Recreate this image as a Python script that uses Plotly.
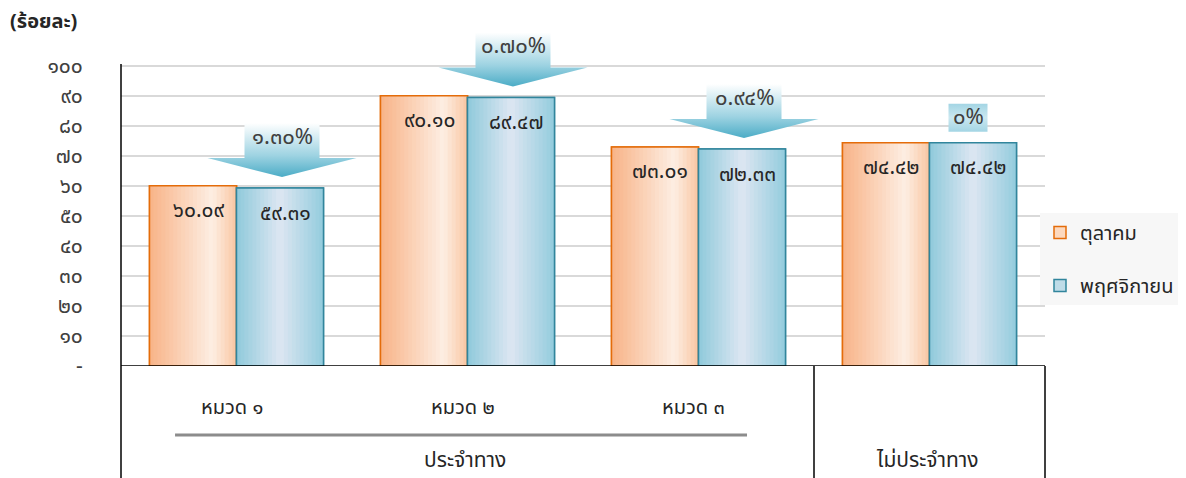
import plotly.graph_objects as go

# ---------------- data ----------------
sub_labels = ['หมวด ๑', 'หมวด ๒', 'หมวด ๓', '']
group_labels = ['ประจำทาง', 'ไม่ประจำทาง']
group_members = [[0, 1, 2], [3]]
series_names = ['ตุลาคม', 'พฤศจิกายน']
oct_vals = [60.09, 90.10, 73.01, 74.42]
nov_vals = [59.31, 89.47, 72.33, 74.42]
change_pct = [1.30, 0.70, 0.94, 0.0]
y_ticks = [0, 10, 20, 30, 40, 50, 60, 70, 80, 90, 100]
y_title = '(ร้อยละ)'

THAI = str.maketrans('0123456789', '๐๑๒๓๔๕๖๗๘๙')


def th(s):
    return str(s).translate(THAI)


tick_text = ['-' if v == 0 else th(v) for v in y_ticks]

# ---------------- geometry helpers ----------------
OFF = 8                                  # page body margin
W_PX, H_PX = 1186 - OFF, 478 - OFF
ML, MT = 121 - OFF, 21 - OFF
YMAX = 115
PW, PH = 924, 345
MR = W_PX - ML - PW
MB = H_PX - MT - PH
X_PX = PW / 4.0                          # pixels per category
Y_PX = PH / YMAX                         # pixels per y unit
BW = 87 / X_PX                           # bar width in category units
xs = list(range(len(oct_vals)))
Y0_REF = 366                             # reference pixel row of y=0

FONT = 'Noto Sans Thai, Noto Sans, DejaVu Sans, sans-serif'


def py(pix):
    """reference pixel row -> paper y"""
    return -(pix - Y0_REF) / PH


def px(pix):
    """reference pixel column -> paper x"""
    return (pix - 121) / PW


def hex2rgb(h):
    h = h.lstrip('#')
    return tuple(int(h[i:i + 2], 16) for i in (0, 2, 4))


def interp(stops, t):
    for (t0, c0), (t1, c1) in zip(stops[:-1], stops[1:]):
        if t0 <= t <= t1:
            a = (t - t0) / (t1 - t0) if t1 > t0 else 0
            r0, g0, b0 = hex2rgb(c0)
            r1, g1, b1 = hex2rgb(c1)
            return 'rgb(%d,%d,%d)' % (round(r0 + (r1 - r0) * a),
                                      round(g0 + (g1 - g0) * a),
                                      round(b0 + (b1 - b0) * a))
    return stops[-1][1]


series = [
    dict(name=series_names[0], vals=oct_vals, off=-BW, line='#E46C0A', mid='#FCD9BF',
         stops=[(0, '#F8B387'), (0.72, '#FDEEE3'), (1, '#F9C6A2')]),
    dict(name=series_names[1], vals=nov_vals, off=0.0, line='#31859C', mid='#BFDCE8',
         stops=[(0, '#8FCADB'), (0.5, '#DDE6F2'), (1, '#93CCDD')]),
]

fig = go.Figure()
N = 22
for k, s in enumerate(series):
    fig.add_trace(go.Bar(x=xs, y=s['vals'], name=s['name'], width=BW, offset=s['off'],
                         marker=dict(color=s['mid'], line=dict(color=s['line'], width=1.5)),
                         legendgroup=s['name'], hoverinfo='skip'))
    sw = BW / N
    for i in range(N):
        wdt = sw * 1.25 if i < N - 1 else sw
        fig.add_trace(go.Bar(x=xs, y=s['vals'], width=wdt, offset=s['off'] + i * sw,
                             marker=dict(color=interp(s['stops'], (i + 0.5) / N), line=dict(width=0)),
                             showlegend=False, hoverinfo='skip'))
    fig.add_trace(go.Bar(x=xs, y=s['vals'], width=BW, offset=s['off'],
                         marker=dict(color='rgba(0,0,0,0)', line=dict(color=s['line'], width=1.5)),
                         showlegend=False, hoverinfo='skip'))

annotations = []
for s in series:
    for i, v in enumerate(s['vals']):
        annotations.append(dict(x=i + s['off'] + BW / 2, y=v, xref='x', yref='y',
                                xanchor='center', yanchor='middle',
                                text=th('%.2f' % v), showarrow=False, yshift=-25, xshift=5,
                                font=dict(family=FONT, size=21, color='#262626')))

for i, (b, c) in enumerate(zip(nov_vals, change_pct)):
    xc = i + BW / 2 + 2 / X_PX
    tip = b + 11 / Y_PX
    if c > 0:
        head = tip + 19 / Y_PX
        top = tip + 54 / Y_PX
        hx, sx = 74.5 / X_PX, 37.5 / X_PX
        px_ = [xc, xc + hx, xc + sx, xc + sx, xc - sx, xc - sx, xc - hx, xc]
        py_ = [tip, head, head, top, top, head, head, tip]
        fig.add_trace(go.Scatter(x=px_, y=py_, mode='lines', fill='toself',
                                 line=dict(width=0, color='rgba(0,0,0,0)'),
                                 fillgradient=dict(type='vertical',
                                                   colorscale=[[0, '#4BACC6'], [0.4, '#9ED3E2'], [1, '#FFFFFF']]),
                                 showlegend=False, hoverinfo='skip'))
        label = th('%.2f%%' % c)
        ty = tip + 40 / Y_PX
    else:
        xb = xc - 7 / X_PX
        hw = 19.5 / X_PX
        top = tip + 28 / Y_PX
        fig.add_trace(go.Scatter(x=[xb - hw, xb + hw, xb + hw, xb - hw, xb - hw],
                                 y=[tip, tip, top, top, tip], mode='lines', fill='toself',
                                 line=dict(width=0, color='rgba(0,0,0,0)'),
                                 fillgradient=dict(type='vertical',
                                                   colorscale=[[0, '#A3D5E4'], [0.5, '#CBE8F0'], [1, '#A3D5E4']]),
                                 showlegend=False, hoverinfo='skip'))
        label = th('%d%%' % c)
        xc = xb
        ty = (tip + top) / 2
    annotations.append(dict(x=xc, y=ty, xref='x', yref='y', text=label, showarrow=False,
                            xanchor='center', yanchor='middle',
                            font=dict(family=FONT, size=22, color='#404040')))

for i, t in enumerate(sub_labels):
    if t:
        annotations.append(dict(x=i - 0.02, y=py(408), xref='x', yref='paper', text=t, showarrow=False,
                                xanchor='center', yanchor='middle',
                                font=dict(family=FONT, size=20, color='#262626')))
for g, mem in zip(group_labels, group_members):
    annotations.append(dict(x=sum(mem) / len(mem) - 0.01, y=py(461), xref='x', yref='paper', text=g,
                            xanchor='center', yanchor='middle',
                            showarrow=False, font=dict(family=FONT, size=21, color='#262626')))

annotations.append(dict(x=px(8), y=py(22), xref='paper', yref='paper',
                        text='<b>%s</b>' % y_title, showarrow=False, xanchor='left', yanchor='middle',
                        font=dict(family=FONT, size=20, color='#262626')))

shapes = []
bottom = py(480)
shapes.append(dict(type='line', xref='paper', yref='paper', x0=0, x1=0, y0=bottom, y1=py(64),
                   line=dict(color='#000000', width=1.5)))
shapes.append(dict(type='line', xref='paper', yref='y', x0=0, x1=1, y0=0, y1=0,
                   line=dict(color='#000000', width=1.5)))
shapes.append(dict(type='line', xref='x', yref='paper', x0=2.5, x1=2.5, y0=bottom, y1=0,
                   line=dict(color='#000000', width=1.5)))
shapes.append(dict(type='line', xref='paper', yref='paper', x0=1, x1=1, y0=bottom, y1=0,
                   line=dict(color='#000000', width=1.5)))
shapes.append(dict(type='line', xref='x', yref='paper', x0=-0.266, x1=2.21, y0=py(435), y1=py(435),
                   line=dict(color='#8C8C8C', width=3)))

fig.update_layout(
    width=W_PX, height=H_PX,
    margin=dict(l=ML, r=MR, t=MT, b=MB, autoexpand=False),
    barmode='overlay',
    paper_bgcolor='white', plot_bgcolor='white',
    hovermode=False,
    font=dict(family=FONT, color='#262626'),
    xaxis=dict(range=[-0.5, 3.5], showgrid=False, zeroline=False, showticklabels=False,
               showline=False, fixedrange=True),
    yaxis=dict(range=[0, YMAX], tickvals=y_ticks, ticktext=tick_text, showgrid=True,
               gridcolor='#D9D9D9', gridwidth=2, zeroline=False, showline=False,
               ticks='outside', ticklen=33, tickcolor='rgba(0,0,0,0)',
               tickfont=dict(family=FONT, size=21, color='#404040'), fixedrange=True),
    legend=dict(xref='container', yref='container',
                x=(1040 - OFF) / W_PX, xanchor='left', y=1 - (213 - OFF) / H_PX, yanchor='top',
                bgcolor='#F7F7F7', font=dict(family=FONT, size=20, color='#262626'),
                tracegroupgap=24, itemwidth=30),
    annotations=annotations,
    shapes=shapes,
)

fig.write_html('out.html')
